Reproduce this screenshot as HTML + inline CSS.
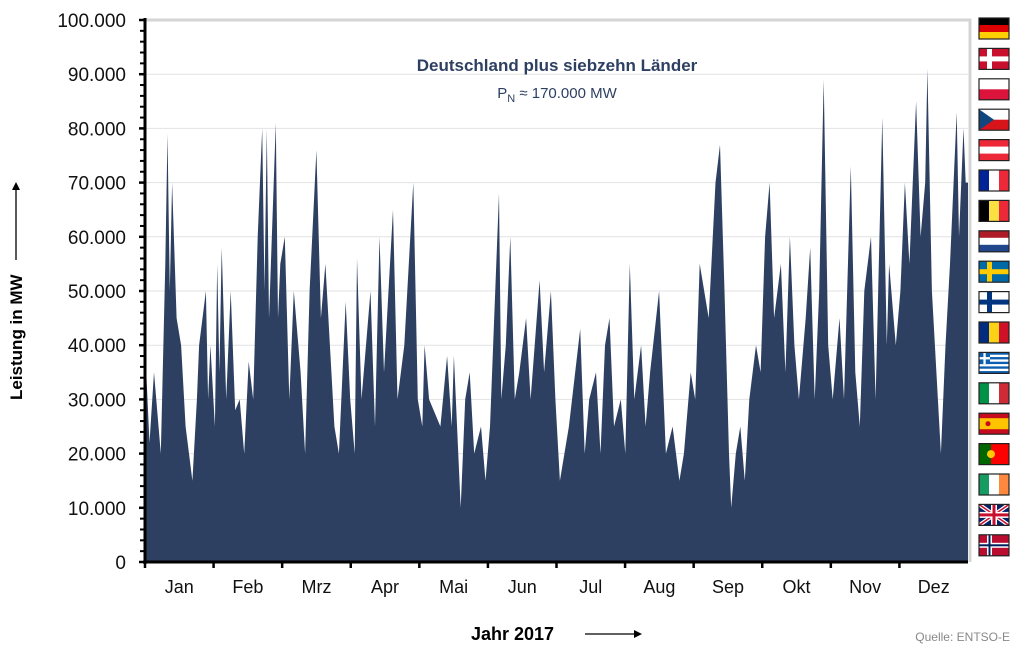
<!DOCTYPE html>
<html><head><meta charset="utf-8"><style>
body{margin:0;background:#fff;}
svg text{font-family:"Liberation Sans",sans-serif;}
</style></head><body>
<svg width="1017" height="655" viewBox="0 0 1017 655">
<g id="grid"></g>
<path id="area" fill="#2e4062"></path>
<g id="axes"></g>
<text x="557" y="71" text-anchor="middle" font-size="17" font-weight="bold" fill="#2e4062">Deutschland plus siebzehn Länder</text>
<text x="557" y="98" text-anchor="middle" font-size="15" fill="#2e4062">P<tspan font-size="11" dy="4">N</tspan><tspan dy="-4"> ≈ 170.000 MW</tspan></text>
<g transform="translate(22,400) rotate(-90)">
<text x="0" y="0" font-size="17" font-weight="bold" fill="#000">Leistung in MW</text>
<line x1="140" y1="-6" x2="210" y2="-6" stroke="#000" stroke-width="1.3"/>
<path d="M210,-10 L218,-6 L210,-2 Z" fill="#000"/>
</g>
<g>
<text x="471" y="640" font-size="18" font-weight="bold" fill="#000">Jahr 2017</text>
<line x1="585" y1="634" x2="634" y2="634" stroke="#000" stroke-width="1.3"/>
<path d="M634,630 L642,634 L634,638 Z" fill="#000"/>
</g>
<text x="1010" y="641" text-anchor="end" font-size="12" fill="#888">Quelle: ENTSO-E</text>
<g id="flags"></g>
</svg>
<script>
const yTicks=[0,10000,20000,30000,40000,50000,60000,70000,80000,90000,100000];
const yTickLabels=["0","10.000","20.000","30.000","40.000","50.000","60.000","70.000","80.000","90.000","100.000"];
const months=["Jan","Feb","Mrz","Apr","Mai","Jun","Jul","Aug","Sep","Okt","Nov","Dez"];
const days=[0,2,4,7,9,10,11,12,14,16,18,21,23,24,27,28,29,31,32,33,34,36,38,40,42,44,46,48,50,52,53,54,55,58,59,60,62,64,66,69,71,73,76,78,80,82,84,86,89,91,93,94,96,100,102,104,106,110,112,115,119,121,123,124,126,131,134,136,137,140,142,144,146,149,151,153,157,158,160,162,164,166,169,171,175,177,180,182,184,188,193,195,197,200,202,204,206,208,211,213,215,217,220,222,224,228,231,234,237,239,242,244,246,250,253,255,257,259,260,262,264,266,268,271,273,275,277,279,282,284,286,288,290,293,295,297,299,301,303,305,308,310,313,315,317,319,322,324,327,329,330,333,335,337,339,342,344,346,347,349,351,353,355,357,360,361,363,364];
const mw=[40,22,35,20,55,79,50,70,45,40,25,15,30,40,50,30,40,25,55,35,58,30,50,28,30,20,37,30,60,80,50,80,45,81,45,55,60,30,50,35,20,50,76,45,55,40,25,20,48,30,20,56,30,50,25,60,35,65,30,40,70,30,25,40,30,25,38,25,38,10,30,35,20,25,15,25,68,30,40,60,30,35,45,30,52,35,50,30,15,25,43,20,30,35,20,40,45,25,30,20,55,30,40,25,35,50,20,25,15,20,35,30,55,45,70,77,50,20,10,20,25,15,30,40,35,60,70,45,55,35,60,40,30,45,58,30,50,89,40,30,45,30,73,35,25,50,60,30,82,40,55,40,50,70,55,85,60,70,91,50,35,20,40,55,83,60,80,70];
const X0=145,X1=968,Y0=562,Y1=20;
const xs=d=>X0+(X1-X0)*d/365;
const ys=v=>Y0-(Y0-Y1)*v/100000;
const NS="http://www.w3.org/2000/svg";
function mk(tag,attrs,parent){const e=document.createElementNS(NS,tag);for(const k in attrs)e.setAttribute(k,attrs[k]);parent.appendChild(e);return e;}
const grid=document.getElementById('grid'),axes=document.getElementById('axes');
yTicks.forEach((t,i)=>{if(t>0){const l=mk('line',{x1:X0,x2:X1,y1:ys(t),y2:ys(t),stroke:'#e2e2e2','stroke-width':1},grid);}
const tx=mk('text',{x:126,y:ys(t)+7,'text-anchor':'end','font-size':19,fill:'#111'},axes);tx.textContent=yTickLabels[i];

mk('line',{x1:X0-6,x2:X0,y1:ys(t),y2:ys(t),stroke:'#000','stroke-width':2.5},axes);
if(i<yTicks.length-1)for(let m=1;m<5;m++){const y=ys(t+m*2000);mk('line',{x1:X0-5,x2:X0,y1:y,y2:y,stroke:'#000','stroke-width':2},axes);}
});
mk('path',{d:`M${X0},${Y1}H${X1+2}V${Y0}`,fill:'none',stroke:'#d4d4d4','stroke-width':3},grid);
let d=`M${xs(0)},${Y0}`;days.forEach((dd,i)=>{d+=`L${xs(dd).toFixed(1)},${ys(mw[i]*1000).toFixed(1)}`;});
d+=`L${xs(365)},${ys(mw[mw.length-1]*1000)}L${xs(365)},${Y0}Z`;
document.getElementById('area').setAttribute('d',d);
mk('line',{x1:X0,x2:X0,y1:Y1-2,y2:Y0+2,stroke:'#000','stroke-width':3},axes);
mk('line',{x1:X0-2,x2:X1,y1:Y0,y2:Y0,stroke:'#000','stroke-width':3},axes);
months.forEach((m,i)=>{const x=X0+(X1-X0)*i/12;mk('line',{x1:x,x2:x,y1:Y0,y2:Y0+6,stroke:'#000','stroke-width':2.5},axes);
const t=mk('text',{x:x+(X1-X0)/24,y:593,'text-anchor':'middle','font-size':18,fill:'#111'},axes);t.textContent=m;
});
// flags
const fl=document.getElementById('flags');
const flags=[["h","#000","#dd0000","#ffce00"],["dk"],["h","#fff","#dc143c"],["cz"],["h","#ed2939","#fff","#ed2939"],["v","#002395","#fff","#ed2939"],["v","#000","#fae042","#ed2939"],["h","#ae1c28","#fff","#21468b"],["se"],["fi"],["v","#002b7f","#fcd116","#ce1126"],["gr"],["v","#009246","#fff","#ce2b37"],["es"],["pt"],["v","#169b62","#fff","#ff883e"],["uk"],["no"]];
flags.forEach((f,i)=>{const g=mk('g',{transform:`translate(979,${18+i*30.4})`},fl);

const W=30,H=21,t=f[0];
if(t=="h"){const n=f.length-1;for(let k=0;k<n;k++)mk('rect',{x:0,y:k*H/n,width:W,height:H/n+0.3,fill:f[k+1]},g);}
else if(t=="v"){for(let k=0;k<3;k++)mk('rect',{x:k*W/3,y:0,width:W/3+0.3,height:H,fill:f[k+1]},g);}
else{const base={dk:["#c8102e","#fff"],se:["#006aa7","#fecc00"],fi:["#fff","#003580"],no:["#ba0c2f","#fff"],uk:["#012169","#fff"],gr:["#0d5eaf","#fff"],cz:["#fff","#d7141a"],es:["#c60b1e","#ffc400"],pt:["#ff0000","#006600"]}[t];
mk('rect',{x:0,y:0,width:W,height:H,fill:base[0]},g);
if(["dk","se","fi","no"].includes(t)){mk('rect',{x:0,y:8,width:W,height:5,fill:base[1]},g);mk('rect',{x:8,y:0,width:5,height:H,fill:base[1]},g);
if(t=="no"){mk('rect',{x:0,y:9.5,width:W,height:2,fill:'#00205b'},g);mk('rect',{x:9.5,y:0,width:2,height:H,fill:'#00205b'},g);}}
if(t=="uk"){mk('path',{d:`M0,0L${W},${H}M${W},0L0,${H}`,stroke:'#fff','stroke-width':4},g);mk('path',{d:`M0,0L${W},${H}M${W},0L0,${H}`,stroke:'#c8102e','stroke-width':1.5},g);mk('rect',{x:0,y:7.5,width:W,height:6,fill:'#fff'},g);mk('rect',{x:12,y:0,width:6,height:H,fill:'#fff'},g);mk('rect',{x:0,y:9,width:W,height:3,fill:'#c8102e'},g);mk('rect',{x:13.5,y:0,width:3,height:H,fill:'#c8102e'},g);}
if(t=="gr"){for(let k=1;k<9;k+=2)mk('rect',{x:0,y:k*H/9,width:W,height:H/9,fill:'#fff'},g);mk('rect',{x:0,y:0,width:11,height:11.7,fill:'#0d5eaf'},g);mk('rect',{x:0,y:4.7,width:11,height:2.3,fill:'#fff'},g);mk('rect',{x:4.4,y:0,width:2.3,height:11.7,fill:'#fff'},g);}
if(t=="cz"){mk('rect',{x:0,y:H/2,width:W,height:H/2,fill:'#d7141a'},g);mk('path',{d:`M0,0L15,${H/2}L0,${H}Z`,fill:'#11457e'},g);}
if(t=="es"){mk('rect',{x:0,y:5,width:W,height:11,fill:'#ffc400'},g);mk('circle',{cx:9,cy:10.5,r:2.5,fill:'#c60b1e'},g);}
if(t=="pt"){mk('rect',{x:0,y:0,width:12,height:H,fill:'#006600'},g);mk('circle',{cx:12,cy:10.5,r:4,fill:'#ffcc00'},g);}
}
mk('rect',{x:0,y:0,width:W,height:H,fill:'none',stroke:'#222','stroke-width':1.2},g);
});
</script>
</body></html>
